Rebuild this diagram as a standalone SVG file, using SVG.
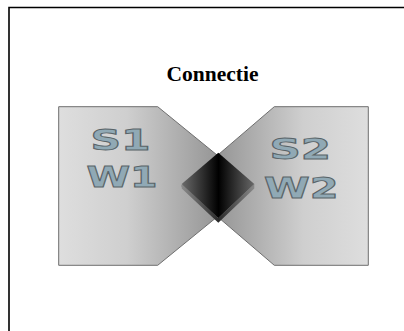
<svg xmlns="http://www.w3.org/2000/svg" width="404" height="331" viewBox="0 0 404 331">
<defs>
<style>
.shape{stroke:#6e6e6e;stroke-width:1}
.lbl{font-family:"DejaVu Sans","Liberation Sans",sans-serif;font-weight:bold;font-size:27.5px;fill:#90a9b5;stroke:#5a6468;stroke-width:0.9}
.title{font-family:"Liberation Serif","Times New Roman",serif;font-weight:bold;font-size:21.5px;fill:#000}
.frame{stroke:#000;stroke-width:1.6;fill:none}
</style>
<linearGradient id="gL" x1="58" y1="0" x2="255" y2="0" gradientUnits="userSpaceOnUse">
<stop offset="0" stop-color="#dedede"/><stop offset="0.35" stop-color="#cfcfcf"/><stop offset="1" stop-color="#7e7e7e"/>
</linearGradient>
<linearGradient id="gR" x1="182" y1="0" x2="369" y2="0" gradientUnits="userSpaceOnUse">
<stop offset="0" stop-color="#7e7e7e"/><stop offset="0.65" stop-color="#cfcfcf"/><stop offset="1" stop-color="#dedede"/>
</linearGradient>
<linearGradient id="gD" x1="182" y1="0" x2="255" y2="0" gradientUnits="userSpaceOnUse">
<stop offset="0" stop-color="#6a6a6a"/><stop offset="0.5" stop-color="#000"/><stop offset="1" stop-color="#6a6a6a"/>
</linearGradient>
<linearGradient id="gB" x1="182" y1="0" x2="255" y2="0" gradientUnits="userSpaceOnUse">
<stop offset="0" stop-color="#8a8a8a"/><stop offset="0.5" stop-color="#2a2a2a"/><stop offset="1" stop-color="#8a8a8a"/>
</linearGradient>
</defs>
<path class="frame" d="M9,331 V7.5 H404"/>
<text class="title" x="212.5" y="80.7" text-anchor="middle">Connectie</text>
<g id="node-s1">
<polygon class="shape" fill="url(#gL)" points="58.7,106.7 157.7,106.7 255,186 157.7,265.3 58.7,265.3"/>
<text class="lbl" x="90.5" y="150" textLength="60" lengthAdjust="spacingAndGlyphs">S1</text>
<text class="lbl" x="86.5" y="186.7" textLength="71" lengthAdjust="spacingAndGlyphs">W1</text>
</g>
<g id="node-s2">
<polygon class="shape" fill="url(#gR)" points="368.3,106.7 274.3,106.7 181.7,186 274.3,265.3 368.3,265.3"/>
<text class="lbl" x="269.5" y="159.3" textLength="61.5" lengthAdjust="spacingAndGlyphs">S2</text>
<text class="lbl" x="264" y="198.3" textLength="74.5" lengthAdjust="spacingAndGlyphs">W2</text>
</g>
<g id="connectors">
<g id="node-connector">
<polygon fill="url(#gB)" points="181.7,184 218.3,218 254.3,184 254.3,188.5 218.3,222.7 181.7,188.5"/>
<polygon fill="url(#gD)" points="218.3,152.7 254.3,184 218.3,218 181.7,184"/>
</g>
</g>
</svg>
